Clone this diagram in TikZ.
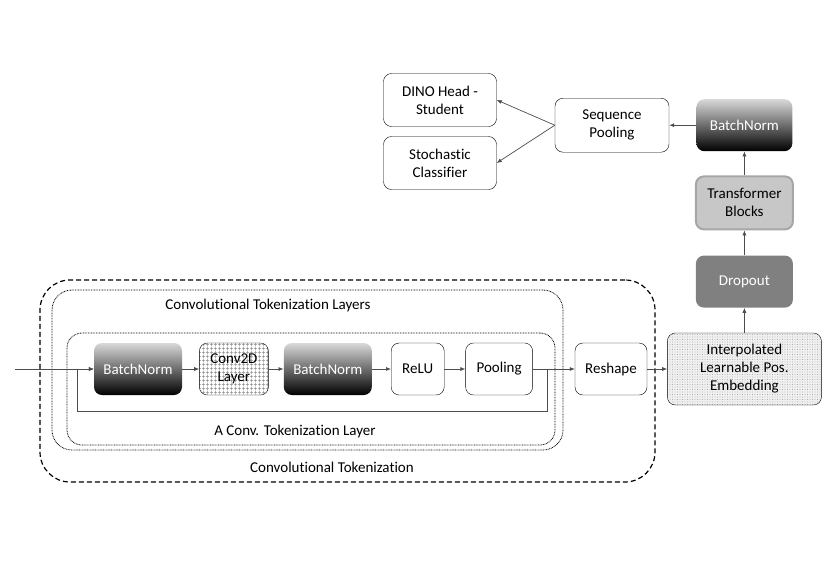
\documentclass[tikz,border=0pt]{standalone}
\usepackage{fontspec}
\setmainfont{Carlito}[Ligatures=NoCommon]
\usetikzlibrary{positioning, arrows.meta, patterns.meta, calc}

\begin{document}
\begin{tikzpicture}[
    x=1pt, y=-1pt,
    node distance=18pt,
    box/.style={draw, rounded corners=8pt, minimum height=52pt, inner sep=2pt, align=center, font=\fontsize{15}{18}\selectfont},
    plain/.style={box, fill=white},
    bnbox/.style={box, draw=none, top color=black!15, bottom color=black, text=white},
    convbox/.style={box, pattern={Hatch[distance=4pt, angle=0, line width=0.4pt]}, pattern color=black!45},
    dotbox/.style={box, preaction={fill=black!6}, pattern={Dots[distance=2.5pt, radius=0.45pt]}, pattern color=black!45},
    frame/.style={draw, inner sep=0pt, line width=0.8pt},
    caption/.style={font=\fontsize{15}{18}\selectfont},
    arr/.style={-{Latex[length=5pt,width=4pt]}, draw=black!70, line width=0.7pt}
]
\useasboundingbox (0,0) rectangle (830,587);

% Frames
\node[frame, dashed, dash pattern=on 5pt off 3pt, line width=1.2pt, rounded corners=30pt, minimum width=615pt, minimum height=202pt] (tok) at (347.5,381) {};
\node[frame, dash pattern=on 0.8pt off 0.8pt, rounded corners=20pt, minimum width=511pt, minimum height=160pt] (layers) at (307.5,370) {};
\node[frame, dash pattern=on 0.8pt off 0.8pt, rounded corners=15pt, minimum width=488pt, minimum height=112pt] (layer) at (311,389) {};

\node[caption] (toklbl) at (332,467) {Convolutional Tokenization};
\node[caption] (layerslbl) at (268,305) {Convolutional Tokenization Layers};
\node[caption] (layerlbl) at (295,431) {A Conv. Tokenization Layer};

% Tokenizer row
\node[bnbox, minimum width=88pt] (bn1) at (138,369) {BatchNorm};
\node[convbox, minimum width=69pt, right=17pt of bn1] (conv) {Conv2D\\Layer};
\node[bnbox, minimum width=88pt, right=15pt of conv] (bn2) {BatchNorm};
\node[plain, minimum width=53pt, right=19pt of bn2] (relu) {ReLU};
\node[plain, minimum width=67pt, right=21pt of relu] (pool) {Pooling};
\node[plain, minimum width=72pt, right=42pt of pool] (reshape) {Reshape};
\node[dotbox, minimum width=154pt, minimum height=72pt, right=20pt of reshape] (embed) {Interpolated\\Learnable Pos.\\Embedding};

% Encoder column
\node[box, draw=none, fill=black!50, text=white, minimum width=97pt, above=25pt of embed] (drop) {Dropout};
\node[box, fill=black!22, draw=black!35, line width=2pt, minimum width=97pt, minimum height=53pt, above=25pt of drop] (trans) {Transformer\\Blocks};
\node[bnbox, minimum width=96pt, above=24pt of trans] (bntop) {BatchNorm};
\node[plain, minimum width=114pt, minimum height=54pt, left=27pt of bntop] (seqpool) {Sequence\\Pooling};

% Heads
\node[plain, minimum width=113pt, minimum height=53pt] (dino) at (440,100) {DINO Head -\\Student};
\node[plain, minimum width=113pt, minimum height=53pt] (stoch) at (440,163) {Stochastic\\Classifier};

% Arrows
\coordinate (in) at (15,369);
\coordinate (split) at ($(pool.east)+(15,0)$);
\coordinate (back) at (77,411);
\draw[arr] (in) -- (bn1.west);
\draw[arr] (bn1) -- (conv);
\draw[arr] (conv) -- (bn2);
\draw[arr] (bn2) -- (relu);
\draw[arr] (relu) -- (pool);
\draw[arr] (pool) -- (reshape);
\draw[arr] (split) |- (back) |- (bn1.west);
\draw[arr] (reshape) -- (embed);
\draw[arr] (embed) -- (drop);
\draw[arr] (drop) -- (trans);
\draw[arr] (trans) -- (bntop);
\draw[arr] (bntop) -- (seqpool);
\draw[arr] (seqpool.west) -- (dino.east);
\draw[arr] (seqpool.west) -- (stoch.east);

\end{tikzpicture}
\end{document}
